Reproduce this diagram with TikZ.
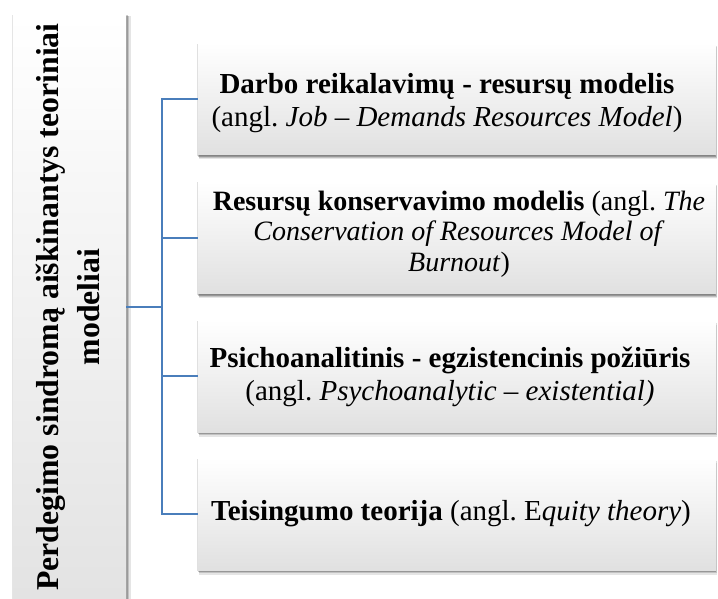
\documentclass[tikz,border=0pt]{standalone}
\usepackage{fontspec}
\setmainfont{Liberation Serif}
\usetikzlibrary{shadows}
\definecolor{connblue}{HTML}{4A7EBB}
\frenchspacing
\tikzset{
  itembox/.style={rectangle, draw=none, inner sep=0pt, minimum width=518pt, minimum height=112pt,
    top color=white, bottom color=black!12,
    general shadow={fill=black, opacity=0.10, shadow xshift=1pt, shadow yshift=-4.5pt},
    general shadow={fill=black, opacity=0.15, shadow xshift=0.7pt, shadow yshift=-3.2pt},
    general shadow={fill=black, opacity=0.22, shadow xshift=0.4pt, shadow yshift=-2pt},
    general shadow={fill=black, opacity=0.12, shadow xshift=-1pt, shadow yshift=-1pt}},
  itemtext/.style={align=center, inner sep=0pt, font=\fontsize{29}{33.5}\selectfont\frenchspacing},
  mainbox/.style={rectangle, draw=none, inner sep=0pt, minimum width=113pt, minimum height=584pt,
    top color=white, bottom color=black!11,
    general shadow={fill=black, opacity=0.10, shadow xshift=4.5pt, shadow yshift=-1pt},
    general shadow={fill=black, opacity=0.15, shadow xshift=3.2pt, shadow yshift=-0.7pt},
    general shadow={fill=black, opacity=0.20, shadow xshift=2pt, shadow yshift=-0.4pt},
    general shadow={fill=black, opacity=0.10, shadow xshift=-1pt, shadow yshift=0pt}},
  maintext/.style={align=center, inner sep=0pt, rotate=90, font=\fontsize{31.8}{41}\selectfont\bfseries},
  connline/.style={draw=connblue, line width=2pt}
}
\begin{document}
\begin{tikzpicture}[x=1pt,y=-1pt]
\useasboundingbox (0,0) rectangle (718,599);
\fill[white] (0,0) rectangle (718,599);

\node[mainbox] (L) at (69.5,307) {};
\node[maintext] (Lt) at (67.5,307) {Perdegimo sindromą aiškinantys teoriniai\\modeliai};

\node[itembox] (b1) at (457,99) {};
\node[itembox] (b2) at (457,237.5) {};
\node[itembox] (b3) at (457,376) {};
\node[itembox] (b4) at (457,514) {};

\node[itemtext] (t1) at (447,103) {\textbf{Darbo reikalavimų - resursų modelis}\\(angl. \textit{Job – Demands Resources Model})};
\node[itemtext, font=\fontsize{28}{30.5}\selectfont\frenchspacing] (t2) at (459,234) {\textbf{Resursų konservavimo modelis} (angl. \textit{The}\\\textit{Conservation of Resources Model of}\\\textit{Burnout})};
\node[itemtext] (t3) at (450,377) {\textbf{Psichoanalitinis - egzistencinis požiūris}\\(angl. \textit{Psychoanalytic – existential)}};
\node[itemtext] (t4) at (451,514) {\textbf{Teisingumo teorija} (angl. E\textit{quity theory})};

\coordinate (j) at (162,307);
\draw[connline] (L.east) -- (j);
\draw[connline] (b1.west) -| (j);
\draw[connline] (b4.west) -| (j);
\draw[connline] (b2.west) -- (b2.west -| j);
\draw[connline] (b3.west) -- (b3.west -| j);
\end{tikzpicture}
\end{document}
